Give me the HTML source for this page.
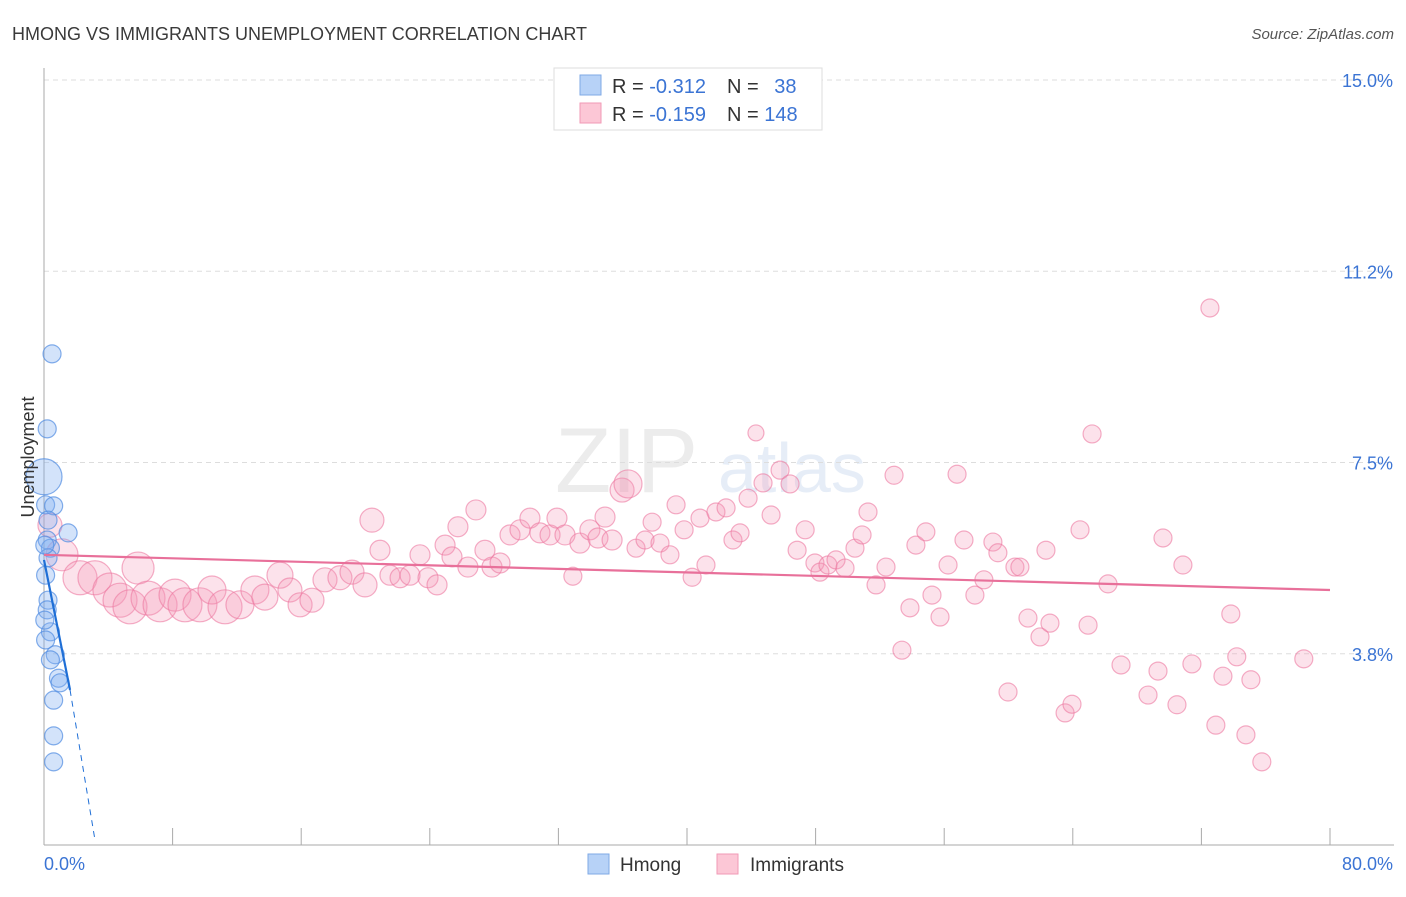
<!DOCTYPE html>
<html><head><meta charset="utf-8"><style>
body{margin:0;background:#fff;font-family:"Liberation Sans",sans-serif}
svg text{font-family:"Liberation Sans",sans-serif}
</style></head><body>
<svg id="c" width="1406" height="892" viewBox="0 0 1406 892" xmlns="http://www.w3.org/2000/svg">
<text x="12" y="40" font-size="18" fill="#3a3a3a">HMONG VS IMMIGRANTS UNEMPLOYMENT CORRELATION CHART</text>
<text x="1394" y="39" font-size="15" font-style="italic" fill="#555" text-anchor="end">Source: ZipAtlas.com</text>
<g opacity="0.18">
<text x="555" y="492" font-size="92" font-family="Liberation Serif" fill="#999">ZIP</text>
<text x="718" y="492" font-size="70" fill="#7aa0d8">atlas</text>
</g>
<g id="grid"></g><g id="axes"></g><g id="pts"></g><g id="lines"></g>
<text transform="translate(34,457) rotate(-90)" font-size="18" fill="#333" text-anchor="middle">Unemployment</text>
<g>
<rect x="554" y="68" width="268" height="62" fill="#fff" stroke="#ddd"/>
<rect x="580" y="75" width="21" height="20" fill="#b7d2f7" stroke="#7fa9e6"/>
<rect x="580" y="103" width="21" height="20" fill="#fcc7d6" stroke="#f19ab6"/>
<text x="612" y="93" font-size="20" fill="#333">R = <tspan fill="#3b74d4">-0.312</tspan></text>
<text x="727" y="93" font-size="20" fill="#333">N = <tspan fill="#3b74d4" dx="10">38</tspan></text>
<text x="612" y="121" font-size="20" fill="#333">R = <tspan fill="#3b74d4">-0.159</tspan></text>
<text x="727" y="121" font-size="20" fill="#333">N = <tspan fill="#3b74d4">148</tspan></text>
</g>
<g>
<rect x="588" y="854" width="21" height="20" fill="#b7d2f7" stroke="#7fa9e6"/>
<text x="620" y="871" font-size="19" fill="#333">Hmong</text>
<rect x="717" y="854" width="21" height="20" fill="#fcc7d6" stroke="#f19ab6"/>
<text x="750" y="871" font-size="19" fill="#333">Immigrants</text>
</g>
</svg>
<script>
const yTicks=[3.75,7.5,11.25,15];
const yTickLabels=["3.8%","7.5%","11.2%","15.0%"];
const xTicks=[0,8,16,24,32,40,48,56,64,72,80];
const hmongX=[0.5,0.2,0,0.1,0.6,1.5,0.2,0.4,0.25,0.1,0.25,0.2,0.4,0.1,0.7,0.4,0.9,0.6,0.6,0.6,0.05,0.05,1.0,0.25];
const hmongY=[9.63,8.16,7.22,6.67,6.65,6.12,5.98,5.82,5.63,5.29,4.8,4.61,4.18,4.02,3.73,3.63,3.27,2.84,2.14,1.63,5.88,4.41,3.18,6.37];
const hmongR=[9,9,18,9,9,9,9,9,9,9,9,9,9,9,9,9,9,9,9,9,9,9,9,9];
const immX=[0.37,1.12,2.24,3.17,4.1,4.73,5.35,5.85,6.47,7.22,8.15,8.77,9.7,10.45,11.26,12.19,13.12,13.74,14.68,15.3,15.93,16.67,17.48,18.41,19.16,19.97,20.4,20.9,21.52,22.15,22.77,23.39,23.89,24.45,24.95,25.38,25.75,26.37,26.87,27.43,27.87,28.37,28.99,29.61,30.23,30.85,31.48,31.91,32.41,32.9,33.34,33.96,34.46,34.9,35.34,35.96,36.33,36.83,37.39,37.83,38.32,38.94,39.32,39.82,40.32,40.81,41.18,41.8,42.43,42.86,43.3,43.8,44.29,44.73,45.23,45.79,46.41,46.85,47.35,47.96,48.27,48.77,49.27,49.83,50.45,50.89,51.26,51.76,52.38,52.88,53.37,53.87,54.24,54.86,55.24,55.74,56.24,56.8,57.23,57.91,58.47,59.03,59.34,59.97,60.4,60.71,61.21,61.96,62.58,62.33,63.52,63.95,64.45,64.95,65.2,66.19,67.0,68.68,69.3,69.61,70.48,70.85,71.41,72.53,72.9,73.34,73.83,74.2,74.77,75.08,75.76,78.37];
const immY=[6.27,5.69,5.24,5.24,5.0,4.8,4.67,5.43,4.84,4.71,4.9,4.71,4.71,5.0,4.67,4.71,5.0,4.86,5.29,5.0,4.71,4.8,5.2,5.24,5.35,5.1,6.37,5.78,5.29,5.24,5.29,5.69,5.24,5.1,5.88,5.65,6.24,5.45,6.57,5.78,5.45,5.53,6.08,6.18,6.41,6.12,6.08,6.41,6.08,5.27,5.92,6.18,6.02,6.43,5.98,6.96,7.08,5.82,5.98,6.33,5.92,5.69,6.67,6.18,5.25,6.41,5.49,6.53,6.61,5.98,6.12,6.8,8.08,7.1,6.47,7.35,7.08,5.78,6.18,5.53,5.35,5.49,5.59,5.43,5.82,6.08,6.53,5.1,5.45,7.25,3.82,4.65,5.88,6.14,4.9,4.47,5.49,7.27,5.98,4.9,5.2,5.94,5.73,3.0,5.45,5.45,4.45,4.08,4.35,5.78,2.59,2.76,6.18,4.31,8.06,5.12,3.53,2.94,3.41,6.02,2.75,5.49,3.55,10.53,2.35,3.31,4.53,3.69,2.16,3.24,1.63,3.65];
const immR=[12,16,17,17,17,17,17,16,17,17,16,17,17,14,17,14,14,13,13,12,12,12,12,12,12,12,12,10,10,10,10,10,10,10,10,10,10,10,10,10,10,10,10,10,10,10,10,10,10,9,10,10,10,10,10,12,14,9,9,9,9,9,9,9,9,9,9,9,9,9,9,9,8,9,9,9,9,9,9,9,9,9,9,9,9,9,9,9,9,9,9,9,9,9,9,9,9,9,9,9,9,9,9,9,9,9,9,9,9,9,9,9,9,9,9,9,9,9,9,9,9,9,9,9,9,9,9,9,9,9,9,9];
const hmongLine=[[0,5.59],[1.62,3.04],[3.17,0.1]];
const immLine=[[0,5.69],[80,5.0]];
const X0=44,X1=1330,Y0=845,PX=51.0;
const sx=v=>X0+(v/80)*(X1-X0);
const sy=v=>Y0-v*PX;
const NS="http://www.w3.org/2000/svg";
function mk(tag,attrs,parent){const e=document.createElementNS(NS,tag);for(const k in attrs)e.setAttribute(k,attrs[k]);parent.appendChild(e);return e;}
const grid=document.getElementById('grid'),axes=document.getElementById('axes'),pts=document.getElementById('pts'),lines=document.getElementById('lines');
yTicks.forEach((t,i)=>{
 const l=mk('line',{x1:X0,x2:1394,y1:sy(t),y2:sy(t),stroke:'#ddd','stroke-dasharray':'5,4'},grid);
 
 
 const tx=mk('text',{x:1393,y:sy(t)+7,'font-size':18,fill:'#3b74d4','text-anchor':'end'},axes);
 tx.textContent=yTickLabels[i];
 
 
});
const ya=mk('line',{x1:X0,x2:X0,y1:68,y2:Y0,stroke:'#aaa'},axes);


const xa=mk('line',{x1:X0,x2:1394,y1:Y0,y2:Y0,stroke:'#aaa'},axes);


xTicks.forEach(t=>{
 const l=mk('line',{x1:sx(t),x2:sx(t),y1:828,y2:Y0,stroke:'#aaa'},axes);
 
 
});
const xl0=mk('text',{x:44,y:870,'font-size':18,fill:'#3b74d4'},axes);xl0.textContent='0.0%';


const xl1=mk('text',{x:1393,y:870,'font-size':18,fill:'#3b74d4','text-anchor':'end'},axes);xl1.textContent='80.0%';


immX.forEach((v,i)=>{
 const c=mk('circle',{cx:sx(v),cy:sy(immY[i]),r:immR[i],fill:'rgba(246,150,182,0.28)',stroke:'rgba(236,120,160,0.6)','stroke-width':1.2},pts);
 
 
});
hmongX.forEach((v,i)=>{
 const c=mk('circle',{cx:sx(v),cy:sy(hmongY[i]),r:hmongR[i],fill:'rgba(130,175,240,0.35)',stroke:'rgba(80,140,225,0.7)','stroke-width':1.2},pts);
 
 
});
const il=mk('line',{x1:sx(immLine[0][0]),y1:sy(immLine[0][1]),x2:sx(immLine[1][0]),y2:sy(immLine[1][1]),stroke:'#e8709a','stroke-width':2.2},lines);


const hl=mk('line',{x1:sx(hmongLine[0][0]),y1:sy(hmongLine[0][1]),x2:sx(hmongLine[1][0]),y2:sy(hmongLine[1][1]),stroke:'#1f6fd6','stroke-width':2.2},lines);


const hd=mk('line',{x1:sx(hmongLine[1][0]),y1:sy(hmongLine[1][1]),x2:sx(hmongLine[2][0]),y2:sy(hmongLine[2][1]),stroke:'#1f6fd6','stroke-width':1,'stroke-dasharray':'6,5'},lines);


</script>
</body></html>
